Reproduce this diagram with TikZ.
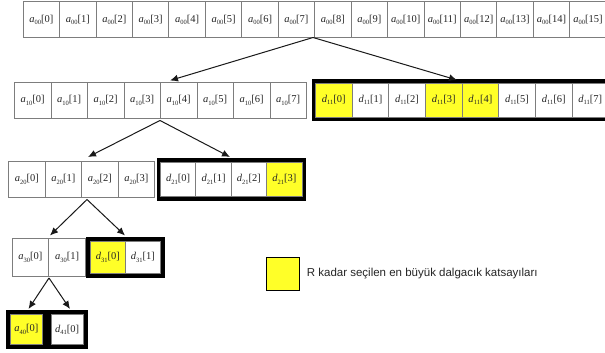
\documentclass[tikz,border=0pt]{standalone}
\usepackage{fontspec}
\setmainfont{Liberation Serif}
\newfontfamily\legfont{Liberation Sans}
\usetikzlibrary{arrows.meta}
\definecolor{hl}{RGB}{255,255,40}
\definecolor{cellline}{RGB}{125,125,125}
\newcommand\cfx[3]{\textit{#1}\raisebox{-0.45ex}{\fontsize{6.5}{7}\selectfont #2}[#3]}
\tikzset{
  cell/.style={draw=cellline, line width=0.9pt, anchor=north west, inner sep=0pt,
    font=\fontsize{10.5}{11}\selectfont, text=black!85},
  frame/.style={draw=black, line width=#1},
  arr/.style={-{Latex[length=8pt,width=7pt]}, line width=1pt, draw=black!90},
}
\begin{document}
\begin{tikzpicture}[x=1pt,y=-1pt]
\useasboundingbox (0,0) rectangle (605,353);
\clip (0,0) rectangle (605,353);
\fill[white] (0,0) rectangle (605,353);

% level 0
\foreach \i in {0,...,15}{
  \node[cell, fill=white, minimum width=36.44pt, minimum height=36.5pt] (t\i) at ({22.7+36.44*\i},1) {\cfx{a}{00}{\i}};
}

% level 1
\foreach \i in {0,...,7}{
  \node[cell, fill=white, minimum width=36.5pt, minimum height=36.6pt] (b\i) at ({14+36.5*\i},81.7) {\cfx{a}{10}{\i}};
}
\foreach \i/\f in {0/hl,1/white,2/white,3/hl,4/hl,5/white,6/white,7/white}{
  \node[cell, fill=\f, minimum width=36.65pt, minimum height=34pt] (d\i) at ({315+36.65*\i},82.7) {\cfx{d}{11}{\i}};
}
\draw[frame=3.4pt] ([shift={(-1.7,-1.7)}]d0.north west) rectangle ([shift={(1.7,1.7)}]d7.south east);

% level 2
\foreach \i in {0,...,3}{
  \node[cell, fill=white, minimum width=36.45pt, minimum height=36.6pt] (c\i) at ({8.3+36.45*\i},160.7) {\cfx{a}{20}{\i}};
}
\foreach \i/\f in {0/white,1/white,2/white,3/hl}{
  \node[cell, fill=\f, minimum width=35.4pt, minimum height=34.6pt] (e\i) at ({160+35.4*\i},161.6) {\cfx{d}{21}{\i}};
}
\draw[frame=3.4pt] ([shift={(-1.7,-1.7)}]e0.north west) rectangle ([shift={(1.7,1.7)}]e3.south east);

% level 3
\foreach \i in {0,1}{
  \node[cell, fill=white, minimum width=36.65pt, minimum height=37.4pt] (f\i) at ({11.7+36.65*\i},238.3) {\cfx{a}{30}{\i}};
}
\node[cell, fill=hl, minimum width=35pt, minimum height=32.8pt] (g0) at (90,240.5) {\cfx{d}{31}{0}};
\node[cell, fill=white, minimum width=35pt, minimum height=32.8pt] (g1) at (125,240.5) {\cfx{d}{31}{1}};
\draw[frame=3.6pt] ([shift={(-1.8,-1.8)}]g0.north west) rectangle ([shift={(1.8,1.8)}]g1.south east);

% level 4
\node[cell, fill=hl, minimum width=31.7pt, minimum height=30pt] (h) at (10,314) {\cfx{a}{40}{0}};
\node[cell, fill=white, minimum width=32pt, minimum height=30pt] (k) at (50.7,314) {\cfx{d}{41}{0}};
\draw[frame=4.5pt] ([shift={(-2.25,-2.25)}]h.north west) rectangle ([shift={(2.25,2.25)}]h.south east);
\draw[frame=4.5pt] ([shift={(-2.25,-2.25)}]k.north west) rectangle ([shift={(2.25,2.25)}]k.south east);

% arrows
\coordinate (s0) at (313,37.5);
\coordinate (e0a) at (170,80.5);
\coordinate (e0b) at (457,80);
\coordinate (s1) at (160,120.5);
\coordinate (e1a) at (88,157);
\coordinate (e1b) at (230,157);
\coordinate (s2) at (87,199.5);
\coordinate (e2a) at (50,235.5);
\coordinate (e2b) at (125,235.5);
\coordinate (s3) at (49,278);
\coordinate (e3a) at (28.5,309);
\coordinate (e3b) at (70,309);
\draw[arr] (s0) -- (e0a);
\draw[arr] (s0) -- (e0b);
\draw[arr] (s1) -- (e1a);
\draw[arr] (s1) -- (e1b);
\draw[arr] (s2) -- (e2a);
\draw[arr] (s2) -- (e2b);
\draw[arr] (s3) -- (e3a);
\draw[arr] (s3) -- (e3b);

% legend
\node[draw=black, line width=1.3pt, fill=hl, minimum width=33pt, minimum height=33pt,
  anchor=north west, inner sep=0pt] (L) at (265.6,256.6) {};
\node[anchor=west, inner sep=0pt, text=black!85, font=\legfont\fontsize{11.5}{12}\selectfont] (lt) at (306.7,273.3)
  {R kadar seçilen en büyük dalgacık katsayıları};
\end{tikzpicture}
\end{document}
